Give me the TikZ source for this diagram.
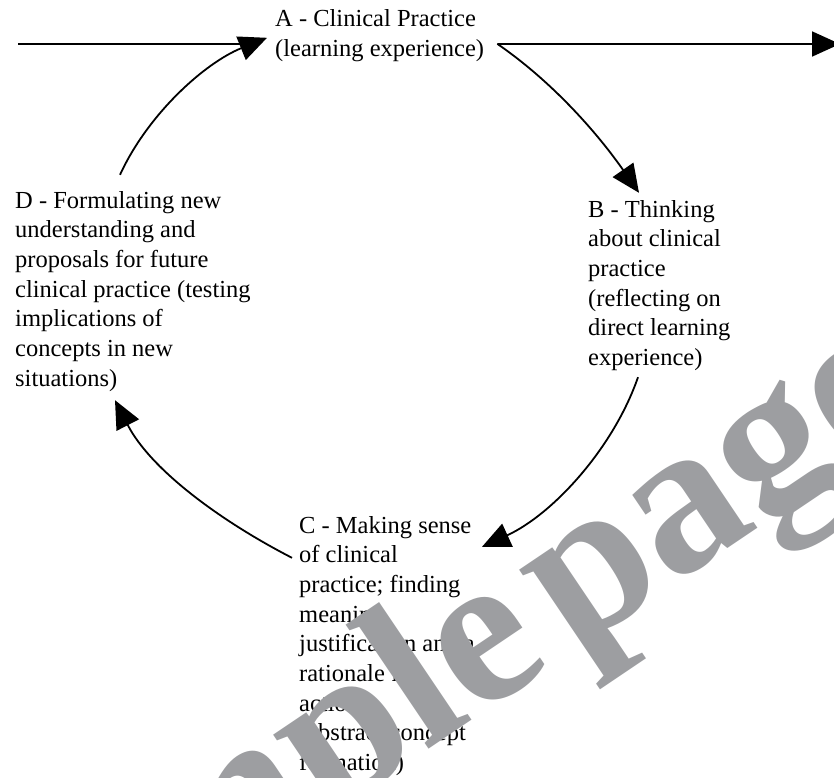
\documentclass[tikz,border=0pt]{standalone}
\usepackage{fontspec}
\setmainfont{Liberation Serif}
\usetikzlibrary{arrows.meta}
\definecolor{wmgray}{RGB}{157,158,161}
\begin{document}
\begin{tikzpicture}[x=1bp,y=-1bp,
  stage/.style={inner sep=0pt, anchor=base west,
    font=\fontsize{24.5bp}{29.7bp}\selectfont},
  flow/.style={line width=1.8bp, -{Triangle[length=28bp,width=25bp]}},
  plain/.style={line width=1.8bp},
  wm/.style={inner sep=0pt, anchor=base west, rotate=34, text=wmgray,
    font=\fontsize{215bp}{215bp}\selectfont\bfseries}]
\useasboundingbox (0,0) rectangle (834,778);

% the four stages of the cycle
\node[stage] (A) at (275,27) {\begin{tabular}[t]{@{}l@{}}A - Clinical Practice\\(learning experience)\end{tabular}};
\node[stage] (B) at (588,217) {\begin{tabular}[t]{@{}l@{}}B - Thinking\\about clinical\\practice\\(reflecting on\\direct learning\\experience)\end{tabular}};
\node[stage] (C) at (299,533) {\begin{tabular}[t]{@{}l@{}}C - Making sense\\of clinical\\practice; finding\\meaning,\\justification and a\\rationale for\\action\\(abstract concept\\formation)\end{tabular}};
\node[stage] (D) at (15,208) {\begin{tabular}[t]{@{}l@{}}D - Formulating new\\understanding and\\proposals for future\\clinical practice (testing\\implications of\\concepts in new\\situations)\end{tabular}};

% connector ends beside the stages
\coordinate (inL) at (18,44);
\coordinate (outR) at (840,44);
\coordinate (aL) at ([shift={(-8,31.8)}]A.north west);
\coordinate (aR) at ([shift={(13.2,8)}]A.east);
\coordinate (bT) at ([shift={(51,-3.2)}]B.north west);
\coordinate (bB) at ([shift={(50,2.6)}]B.south west);
\coordinate (cR) at ([shift={(183,34.8)}]C.north west);
\coordinate (cL) at ([shift={(-7,45.8)}]C.north west);
\coordinate (dB) at ([shift={(100,4.9)}]D.south west);
\coordinate (dT) at ([shift={(105,-12.2)}]D.north west);

% entry and exit of the cycle
\draw[plain, shorten >=10bp] (inL) -- (inL -| aL);
\draw[flow] (aR) -- (outR);

% the cycle
\draw[flow] (aR) .. controls +(58,40) and +(-39,-56) .. (bT);
\draw[flow] (bB) .. controls +(-25,72) and +(70,-32) .. (cR);
\draw[flow] (cL) .. controls +(-70,-36) and +(36,70) .. (dB);
\draw[flow] (dT) .. controls +(28,-61) and +(-62,25) .. (aL);

% watermark
\node[wm] (wmk) at (-10,1046) {Sample\hspace{-0.15em} page};
\end{tikzpicture}
\end{document}
